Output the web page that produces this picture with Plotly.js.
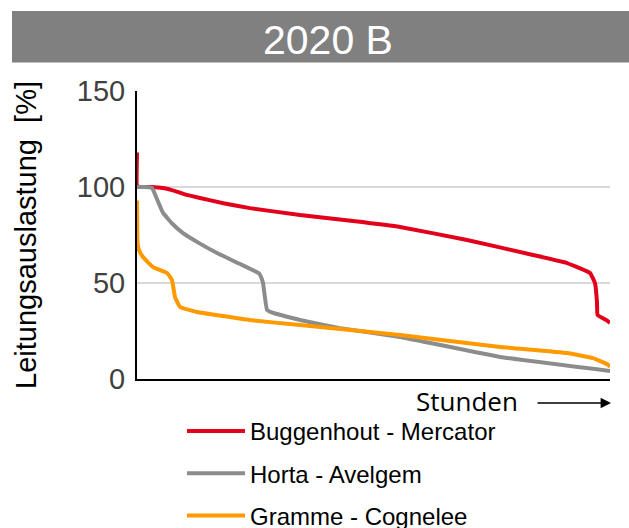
<!DOCTYPE html>
<html>
<head>
<meta charset="utf-8">
<script src="https://cdn.plot.ly/plotly-3.0.1.min.js"></script>
<style>html,body{margin:0;padding:0;background:#fff;}#chart{width:629px;height:528px;}</style>
</head>
<body>
<div id="chart"></div>
<script>
// Duration curves (hours sorted by load), values in %
const chartTitle = "2020 B";
const seriesNames = ["Buggenhout - Mercator", "Horta - Avelgem", "Gramme - Cognelee"];
const seriesColors = ["#E3001B", "#8C8C8C", "#FF9900"];

const redHours = [0, 2, 60, 280, 480, 648, 900, 1167, 1600, 2093, 3019, 4000, 4871, 6112, 7334, 7964, 8390, 8482, 8519, 8530, 8700, 8760];
const redLoad  = [118, 100.5, 100, 100, 99.5, 98.4, 96, 94.3, 91.5, 89, 85.4, 82.3, 79.2, 72.4, 64.6, 60.4, 55.2, 50, 40, 33.3, 30.5, 29.2];

const grayHours = [0, 150, 278, 380, 482, 650, 852, 1167, 1482, 1900, 2260, 2300, 2334, 2408, 2520, 3019, 3760, 4871, 6723, 8760];
const grayLoad  = [100, 100, 99.5, 93, 86.5, 81, 76, 70.5, 65.6, 60, 55, 53, 50, 36, 34.4, 30.7, 26.5, 21.9, 11.5, 4.2];

const orangeHours = [0, 10, 40, 111, 296, 556, 648, 704, 796, 1111, 2093, 3019, 4871, 6723, 7964, 8445, 8723, 8760];
const orangeLoad  = [93, 70.8, 67, 63.5, 58.3, 55.2, 51.6, 42.7, 37.5, 34.9, 30.7, 28.1, 22.9, 16.7, 13.5, 10.9, 7.5, 6.3];

const yTicks = [0, 50, 100, 150];
const xLabel = "Stunden";
const yLabel = "Leitungsauslastung\u00a0\u00a0[%]";

const plotL = 137, plotR = 610, plotT = 91, plotB = 379;
const W = 629, H = 528;
const pw = plotR - plotL, ph = plotB - plotT;
const px = v => (v - plotL) / pw;
const py = v => (plotB - v) / ph;

const xs = [redHours, grayHours, orangeHours];
const ys = [redLoad, grayLoad, orangeLoad];
const traces = seriesNames.map((n, i) => ({
  type: "scatter", mode: "lines", name: n,
  x: xs[i], y: ys[i],
  line: {color: seriesColors[i], width: 4, shape: "spline", smoothing: 0.3},
  legendgroup: "g" + i,
  hoverinfo: "skip"
}));

const layout = {
  width: W, height: H,
  margin: {l: plotL, r: W - plotR, t: plotT, b: H - plotB, pad: 0, autoexpand: false},
  paper_bgcolor: "#fff", plot_bgcolor: "#fff",
  font: {family: "Liberation Sans, Arial, sans-serif", color: "#000"},
  showlegend: true,
  legend: {
    x: px(182), y: py(409), xanchor: "left", yanchor: "top",
    orientation: "v", traceorder: "grouped", tracegroupgap: 8,
    font: {size: 24, color: "#000", family: "Liberation Sans, Arial, sans-serif"},
    bgcolor: "rgba(0,0,0,0)", itemwidth: 58
  },
  xaxis: {
    range: [0, 8760], showticklabels: false, ticks: "", showgrid: false,
    zeroline: false, showline: true, linecolor: "#000", linewidth: 2,
    fixedrange: true
  },
  yaxis: {
    range: [0, 150], tickvals: yTicks, ticks: "", ticklabelstandoff: 4,
    tickfont: {size: 29, color: "#404040"},
    showgrid: true, gridcolor: "#D9D9D9", gridwidth: 1.5,
    zeroline: false, showline: true, linecolor: "#000", linewidth: 2,
    title: {text: yLabel, font: {size: 29, color: "#000"}, standoff: 32},
    fixedrange: true
  },
  shapes: [{
    type: "rect", xref: "paper", yref: "paper",
    x0: px(12), x1: px(629), y0: py(62.5), y1: py(11),
    fillcolor: "#808080", line: {width: 0}, layer: "below"
  }],
  annotations: [
    {xref: "paper", yref: "paper", x: px(327.5), y: py(40), text: chartTitle,
     showarrow: false, xanchor: "center", yanchor: "middle",
     font: {size: 41, color: "#fff"}},
    {xref: "paper", yref: "paper", x: px(520), y: py(401), text: xLabel,
     showarrow: false, xanchor: "right", yanchor: "middle",
     font: {size: 26, color: "#000", family: "Open Sans, sans-serif"}},
    {xref: "paper", yref: "paper", x: px(611), y: py(403), text: "",
     showarrow: true, axref: "pixel", ayref: "pixel", ax: -75, ay: 0,
     arrowhead: 2, arrowsize: 1.3, arrowwidth: 1.6, arrowcolor: "#000", standoff: 0}
  ]
};

Plotly.newPlot("chart", traces, layout, {displayModeBar: false, staticPlot: true});
</script>
</body>
</html>
